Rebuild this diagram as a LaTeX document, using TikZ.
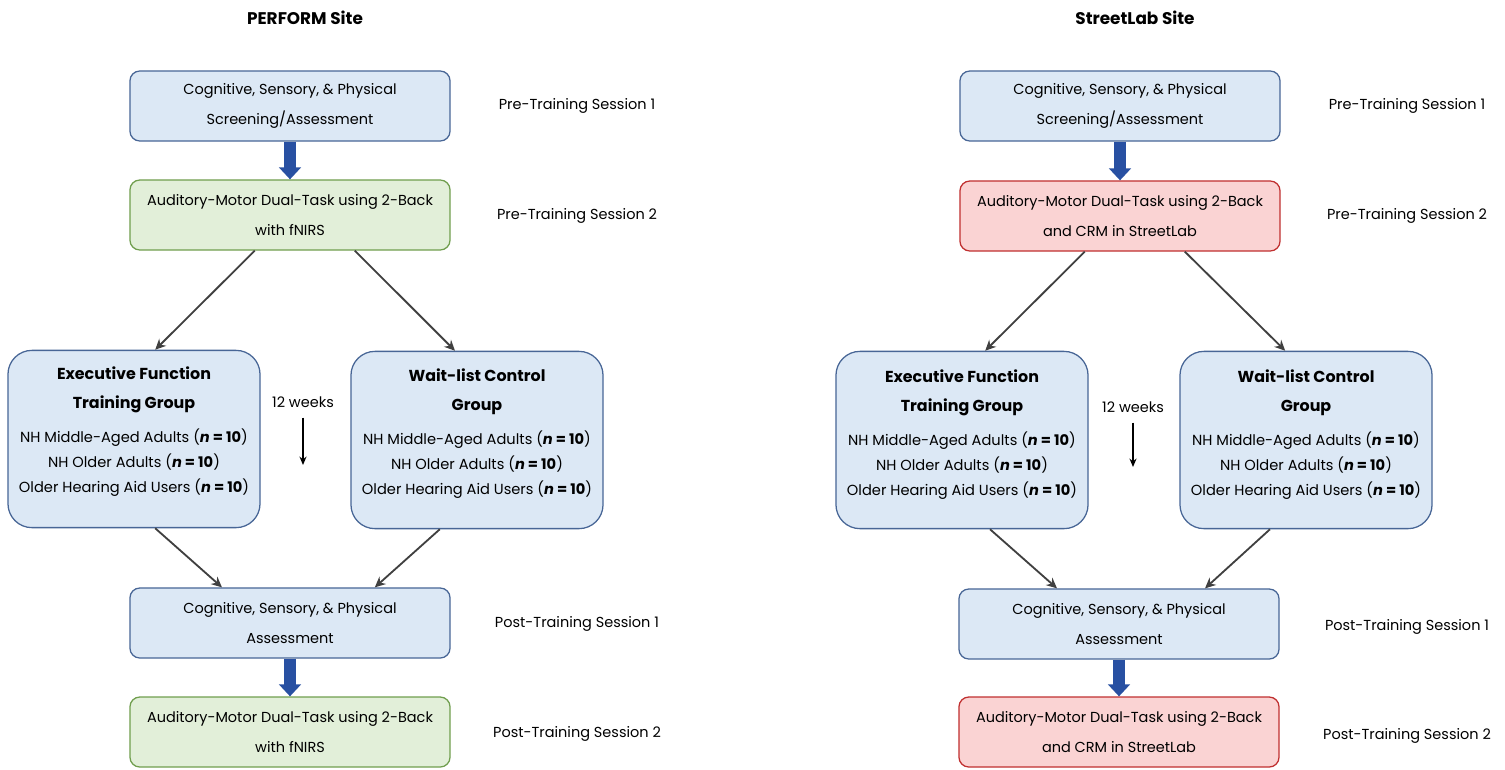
\documentclass[tikz,border=0pt]{standalone}
\usepackage{fontspec}
\setmainfont{Poppins}
\usepackage{xcolor}
\usetikzlibrary{arrows.meta}

\definecolor{boxblue}{RGB}{220,232,245}
\definecolor{edgeblue}{RGB}{72,102,150}
\definecolor{boxgreen}{RGB}{226,239,217}
\definecolor{edgegreen}{RGB}{112,158,78}
\definecolor{boxred}{RGB}{250,211,211}
\definecolor{edgered}{RGB}{192,48,48}
\definecolor{flowblue}{RGB}{40,80,162}
\definecolor{linkgray}{RGB}{64,64,64}

\newcommand{\grouphead}[1]{\textbf{\fontsize{11.3}{17.7}\selectfont #1}}
\newcommand{\nten}{(\textbf{\textit{n} = 10})}

\begin{document}
\begin{tikzpicture}[x=0.025cm, y=-0.025cm,
        every node/.style={font=\fontsize{10.3}{21}\selectfont, inner sep=0pt},
        stage/.style={draw=edgeblue, fill=boxblue, line width=0.9pt,
            rounded corners=7pt, minimum width=8cm, minimum height=1.75cm, align=center},
        fnirs/.style={stage, draw=edgegreen, fill=boxgreen},
        street/.style={stage, draw=edgered, fill=boxred},
        group/.style={draw=edgeblue, fill=boxblue, line width=0.9pt,
            rounded corners=17pt, minimum width=6.3cm, minimum height=4.43cm},
        grouptext/.style={anchor=north, align=center, font=\fontsize{10.4}{17.7}\selectfont},
        session/.style={anchor=center},
        sitetitle/.style={font=\fontsize{12}{14}\selectfont\bfseries},
        flow/.style={draw=flowblue, line width=0.3cm,
            -{Triangle[width=0.54cm, length=0.3cm]}},
        link/.style={draw=linkgray, line width=1.3pt, -{Stealth[length=7.5pt, width=7pt]}},
        weeks/.style={draw=black, line width=1pt, -{Stealth[length=6pt, width=5pt]}}]
        \useasboundingbox (0, 0) rectangle (1505, 769);

        % PERFORM site
        \node[sitetitle] (ptitle) at (305, 18) {PERFORM Site};
        \node[stage] (pscreen) at (290, 106)
            {Cognitive, Sensory, \& Physical\\ Screening/Assessment};
        \node[fnirs] (pdual) at (290, 215)
            {Auditory-Motor Dual-Task using 2-Back\\ with fNIRS};
        \node[group] (pef) at (134, 439) {};
        \node[grouptext] (peftext) at (134, 366)
            {\grouphead{Executive Function}\\[3.6pt] \grouphead{Training Group}\\[6pt]
             NH Middle-Aged Adults \nten\\
             NH Older Adults \nten\\
             Older Hearing Aid Users \nten};
        \node[group] (pwl) at (477, 440) {};
        \node[grouptext] (pwltext) at (477, 368)
            {\grouphead{Wait-list Control}\\[3.6pt] \grouphead{Group}\\[6pt]
             NH Middle-Aged Adults \nten\\
             NH Older Adults \nten\\
             Older Hearing Aid Users \nten};
        \node[stage] (ppost) at (290, 623)
            {Cognitive, Sensory, \& Physical\\ Assessment};
        \node[fnirs] (pdual2) at (290, 732)
            {Auditory-Motor Dual-Task using 2-Back\\ with fNIRS};

        \node[session] (ppre1) at (577, 106) {Pre-Training Session 1};
        \node[session] (ppre2) at (577, 216) {Pre-Training Session 2};
        \node[session] (ppost1) at (577, 624) {Post-Training Session 1};
        \node[session] (ppost2) at (577, 734) {Post-Training Session 2};

        \node (pweeks) at (303, 402) {12 weeks};
        \coordinate (pweekend) at (303, 465);

        \draw[flow] (pscreen) -- (pdual);
        \draw[flow] (ppost) -- (pdual2);
        \draw[link] ([xshift=-0.88cm]pdual.south) -- ([xshift=0.53cm]pef.north);
        \draw[link] ([xshift=1.62cm]pdual.south) -- ([xshift=-0.55cm]pwl.north);
        \draw[link] ([xshift=0.53cm]pef.south) -- ([xshift=-1.7cm]ppost.north);
        \draw[link] ([xshift=-0.93cm]pwl.south) -- ([xshift=2.12cm]ppost.north);
        \draw[weeks] ([yshift=-0.25cm]pweeks.south) -- (pweekend);

        % StreetLab site
        \node[sitetitle] (stitle) at (1135, 18) {StreetLab Site};
        \node[stage] (sscreen) at (1120, 106)
            {Cognitive, Sensory, \& Physical\\ Screening/Assessment};
        \node[street] (sdual) at (1120, 216)
            {Auditory-Motor Dual-Task using 2-Back\\ and CRM in StreetLab};
        \node[group] (sef) at (962, 440) {};
        \node[grouptext] (seftext) at (962, 369)
            {\grouphead{Executive Function}\\[3.6pt] \grouphead{Training Group}\\[6pt]
             NH Middle-Aged Adults \nten\\
             NH Older Adults \nten\\
             Older Hearing Aid Users \nten};
        \node[group] (swl) at (1306, 440) {};
        \node[grouptext] (swltext) at (1306, 369)
            {\grouphead{Wait-list Control}\\[3.6pt] \grouphead{Group}\\[6pt]
             NH Middle-Aged Adults \nten\\
             NH Older Adults \nten\\
             Older Hearing Aid Users \nten};
        \node[stage] (spost) at (1119, 624)
            {Cognitive, Sensory, \& Physical\\ Assessment};
        \node[street] (sdual2) at (1119, 732)
            {Auditory-Motor Dual-Task using 2-Back\\ and CRM in StreetLab};

        \node[session] (spre1) at (1407, 106) {Pre-Training Session 1};
        \node[session] (spre2) at (1407, 216) {Pre-Training Session 2};
        \node[session] (spost1) at (1407, 627) {Post-Training Session 1};
        \node[session] (spost2) at (1407, 736) {Post-Training Session 2};

        \node (sweeks) at (1133, 407) {12 weeks};
        \coordinate (sweekend) at (1133, 467);

        \draw[flow] (sscreen) -- (sdual);
        \draw[flow] (spost) -- (sdual2);
        \draw[link] ([xshift=-0.88cm]sdual.south) -- ([xshift=0.58cm]sef.north);
        \draw[link] ([xshift=1.62cm]sdual.south) -- ([xshift=-0.52cm]swl.north);
        \draw[link] ([xshift=0.7cm]sef.south) -- ([xshift=-1.55cm]spost.north);
        \draw[link] ([xshift=-0.9cm]swl.south) -- ([xshift=2.15cm]spost.north);
        \draw[weeks] ([yshift=-0.25cm]sweeks.south) -- (sweekend);
\end{tikzpicture}
\end{document}
